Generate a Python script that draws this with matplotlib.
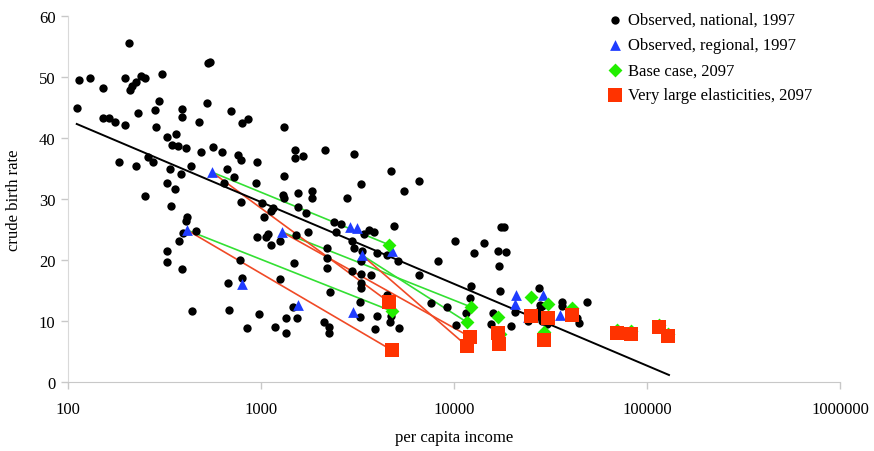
import matplotlib
matplotlib.use("Agg")
import matplotlib.pyplot as plt
from matplotlib.ticker import FixedLocator, NullLocator

# ---------------- data ----------------
# Observed, national, 1997: per capita income and crude birth rate
nat_income = [207, 531, 544, 114, 130, 152, 197, 225, 215, 210, 239, 251, 307,
              111, 152, 163, 175, 197, 230, 296, 282, 286, 390, 390, 525, 477,
              699, 856, 797, 326, 363, 346, 372, 409, 489, 564, 628, 760, 788,
              953, 184, 225, 260, 276, 338, 385, 434, 667, 725, 643, 326, 359,
              942, 251, 342, 414, 409, 394, 460, 376, 326, 326, 390, 788, 953,
              778, 797, 675, 439, 683, 977, 846,
              1315, 1500, 1500, 1651, 2147, 3034, 1315, 3297, 4716, 6587, 5508,
              1555, 1837, 1300, 2790, 1837, 1315,
              1012, 1154, 1127, 1036, 1555, 1711, 1087, 1062, 1254, 1127, 1518,
              1752, 2388, 2597, 2447, 3628, 3850, 3419, 4887, 2962, 3034, 3335,
              3991, 4496, 3297, 5129, 8260, 2198, 2198, 2198, 1483, 2962, 3715,
              3297, 6587, 1254, 3297, 3297, 2279, 7600, 9200, 4496, 4716, 4659,
              3259, 1465, 1348, 1537, 3259, 3991, 1182, 1348, 2120, 2250, 2250,
              3897, 5190,
              10120, 14300, 12700, 17530, 18160, 16900, 18600, 17100, 12240,
              12100, 17300, 11530, 10240, 15920, 15550, 19740, 27560, 27900,
              28570, 27560, 20700, 28000, 24170, 28570, 30340, 36300, 36300,
              48870, 43350, 44430]
nat_cbr = [55.6, 52.3, 52.5, 49.5, 49.8, 48.2, 49.8, 49.2, 48.5, 47.9, 50.2, 49.8, 50.5,
           44.9, 43.3, 43.3, 42.6, 42.1, 44.1, 46.0, 44.6, 41.8, 44.8, 43.4, 45.7, 42.6,
           44.4, 43.1, 42.5, 40.2, 40.7, 38.9, 38.7, 38.4, 37.7, 38.5, 37.7, 37.2, 36.4,
           36.1, 36.1, 35.4, 36.9, 36.1, 34.9, 34.1, 35.4, 34.9, 33.6, 32.6, 32.6, 31.6,
           32.6, 30.5, 28.9, 27.0, 26.4, 24.4, 24.8, 23.1, 21.5, 19.7, 18.5, 29.5, 23.8,
           20.0, 17.0, 16.2, 11.6, 11.8, 11.1, 8.9,
           41.8, 38.0, 36.7, 37.0, 38.0, 37.4, 33.8, 32.5, 34.6, 33.0, 31.3,
           31.0, 31.3, 30.7, 30.2, 30.2, 30.2,
           29.3, 28.5, 28.0, 27.0, 28.7, 27.7, 24.3, 23.8, 23.1, 22.5, 24.1,
           24.6, 26.2, 25.9, 24.6, 24.9, 24.6, 24.3, 25.6, 23.1, 22.0, 21.5,
           21.1, 20.8, 19.8, 19.8, 19.8, 22.0, 20.3, 18.7, 19.5, 18.2, 17.5,
           17.7, 17.5, 16.9, 16.2, 15.4, 14.8, 13.0, 12.3, 14.3, 10.8, 9.8,
           13.1, 12.3, 10.5, 10.5, 10.7, 10.8, 9.0, 8.0, 9.8, 9.0, 8.0,
           8.7, 8.9,
           23.1, 22.8, 21.1, 25.4, 25.4, 21.5, 21.3, 19.0, 15.7,
           13.8, 14.9, 11.3, 9.3, 11.3, 9.5, 9.2, 15.4, 12.6,
           12.5, 11.6, 11.5, 11.0, 10.0, 10.0, 9.5, 13.1, 12.5,
           13.1, 10.5, 9.7]

# Observed, regional, 1997
reg_income = [557, 414, 797, 1285, 1555, 2893, 3142, 3335, 4774, 2997,
              20950, 20700, 28910, 35400, 24170]
reg_cbr = [34.4, 24.9, 16.1, 24.6, 12.6, 25.4, 25.2, 20.8, 21.5, 11.5,
           14.3, 12.8, 14.3, 11.0, 10.6]

# Base case, 2097
base_income = [4603, 4774, 12240, 11670, 16900, 17300, 25050, 30700, 29260,
               40850, 69980, 82600, 115300, 128500]
base_cbr = [22.5, 11.6, 12.3, 9.8, 10.7, 7.9, 13.9, 12.8, 8.2,
            12.1, 8.6, 8.3, 9.4, 7.9]

# Very large elasticities, 2097
vle_income = [4603, 4774, 12100, 11670, 16900, 17100, 25050, 30700, 29260,
              40850, 69980, 82600, 115300, 128500]
vle_cbr = [13.1, 5.2, 7.4, 5.9, 8.0, 6.2, 10.8, 10.5, 6.9,
           11.0, 8.0, 7.9, 9.0, 7.5]

# connections drawn: (regional index, base/vle index)
green_links = [(0, 0), (1, 1), (3, 2), (7, 3)]
red_links = [(0, 0), (1, 1), (3, 2), (7, 3)]

# fitted trend (end points)
trend_income = [111, 130000]
trend_cbr = [42.3, 1.15]

x_ticks = [100, 1000, 10000, 100000, 1000000]
x_tick_labels = ["100", "1000", "10000", "100000", "1000000"]
y_ticks = [0, 10, 20, 30, 40, 50, 60]

# ---------------- plotting ----------------
plt.rcParams['font.family'] = ['Liberation Serif', 'DejaVu Serif']

fig = plt.figure(figsize=(8.74, 4.52), dpi=100)
ax = fig.add_axes([68/874, 1 - 383/452, 772/874, 366/452])

ax.set_xscale('log')
ax.set_xlim(100, 1000000)
ax.set_ylim(0, 60)

# connecting lines
for ri, bi in green_links:
    ax.plot([reg_income[ri], base_income[bi]], [reg_cbr[ri], base_cbr[bi]],
            color='#33e033', lw=1.2, zorder=2)
for ri, vi in red_links:
    ax.plot([reg_income[ri], vle_income[vi]], [reg_cbr[ri], vle_cbr[vi]],
            color='#f04a26', lw=1.2, zorder=2)

ax.scatter(nat_income, nat_cbr, s=36, color='black', zorder=3,
           label='Observed, national, 1997', linewidths=0)
ax.plot(trend_income, trend_cbr, color='black', lw=1.4, zorder=3.5)
ax.scatter(reg_income, reg_cbr, s=60, marker='^', color='#1f3cff', zorder=4,
           label='Observed, regional, 1997', linewidths=0)
ax.scatter(base_income, base_cbr, s=50, marker='D', color='#22ee00', zorder=5,
           label='Base case, 2097', linewidths=0)
ax.scatter(vle_income, vle_cbr, s=90, marker='s', color='#ff3300', zorder=6,
           label='Very large elasticities, 2097', linewidths=0)

ax.xaxis.set_major_locator(FixedLocator(x_ticks))
ax.xaxis.set_minor_locator(NullLocator())
ax.set_xticklabels(x_tick_labels)
ax.set_yticks(y_ticks)

for s in ['top', 'right']:
    ax.spines[s].set_visible(False)
ax.spines['left'].set_color('#d9d9d9')
ax.spines['bottom'].set_color('#c8c8c8')
ax.tick_params(axis='both', colors='#c8c8c8', labelcolor='black',
               labelsize=12, length=5, width=1)
ax.tick_params(axis='x', pad=9)
ax.tick_params(axis='y', pad=4)

ax.set_xlabel('per capita income', fontsize=12, labelpad=8)
ax.set_ylabel('crude birth rate', fontsize=12, labelpad=12)

leg = ax.legend(loc='upper left', bbox_to_anchor=(609/874, 1 - 13/452),
                bbox_transform=fig.transFigure, frameon=False, fontsize=12,
                handlelength=0.7, handletextpad=0.45, labelspacing=0.55,
                borderaxespad=0, borderpad=0)

fig.savefig('out.png', dpi=100)
